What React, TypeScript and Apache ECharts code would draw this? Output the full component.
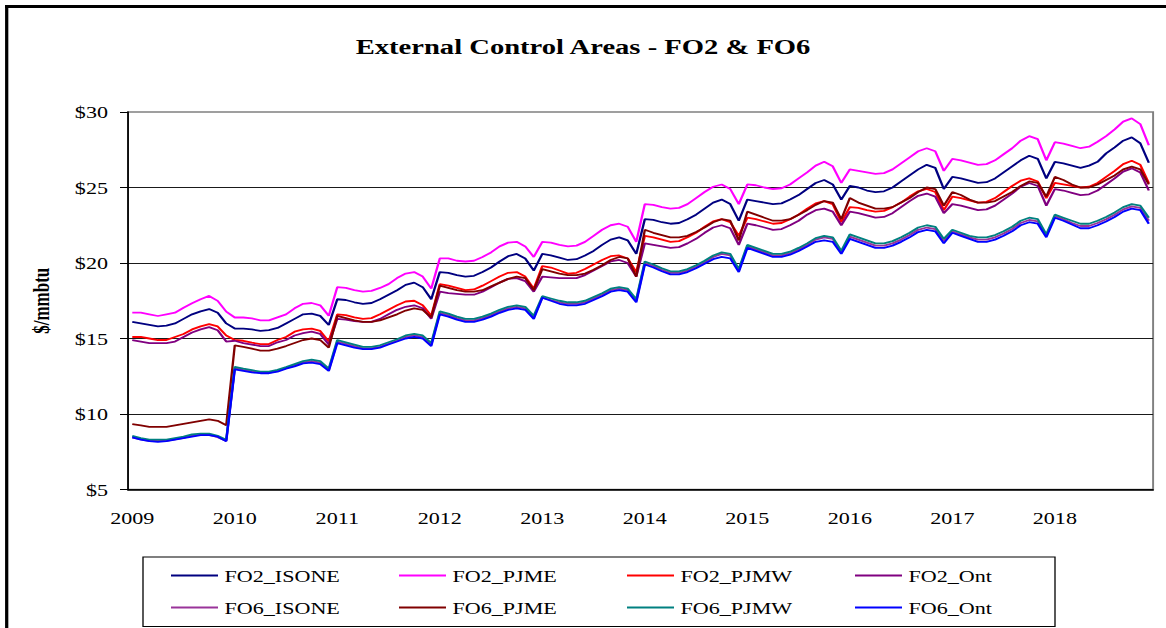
import React, { useEffect, useRef } from "react";
import * as echarts from "echarts";

// ---------- data ----------
const years = ["2009", "2010", "2011", "2012", "2013", "2014", "2015", "2016", "2017", "2018"];
const monthCodes = ["01", "02", "03", "04", "05", "06", "07", "08", "09", "10", "11", "12"];
const yTicks = [5, 10, 15, 20, 25, 30];

const seriesNames = [
  "FO2_ISONE", "FO2_PJME", "FO2_PJMW", "FO2_Ont",
  "FO6_ISONE", "FO6_PJME", "FO6_PJMW", "FO6_Ont",
];

const fo2Isone = [
  16.1, 16.0, 15.9, 15.8, 15.85, 16.0, 16.3, 16.6, 16.8, 16.95, 16.7, 16.0,
  15.66, 15.66, 15.6, 15.5, 15.55, 15.7, 16.0, 16.3, 16.6, 16.65, 16.5, 15.9,
  17.6, 17.55, 17.4, 17.3, 17.35, 17.6, 17.9, 18.2, 18.55, 18.7, 18.4, 17.6,
  19.4, 19.35, 19.2, 19.1, 19.15, 19.4, 19.7, 20.1, 20.45, 20.6, 20.3, 19.5,
  20.6, 20.5, 20.35, 20.2, 20.25, 20.5, 20.8, 21.2, 21.55, 21.7, 21.5, 20.6,
  22.9, 22.85, 22.7, 22.6, 22.65, 22.9, 23.2, 23.6, 24.0, 24.2, 23.9, 22.8,
  24.2, 24.1, 24.0, 23.9, 23.95, 24.2, 24.5, 24.9, 25.3, 25.5, 25.2, 24.2,
  25.1, 25.0, 24.8, 24.7, 24.75, 25.0, 25.4, 25.8, 26.2, 26.5, 26.3, 24.9,
  25.7, 25.6, 25.45, 25.3, 25.35, 25.6, 26.0, 26.4, 26.8, 27.1, 26.9, 25.6,
  26.7, 26.6, 26.45, 26.3, 26.45, 26.7, 27.26, 27.66, 28.1, 28.32, 27.93, 26.64,
];
const fo2Pjme = [
  16.71, 16.71, 16.6, 16.49, 16.6, 16.71, 17.04, 17.33, 17.6, 17.82, 17.49, 16.78,
  16.39, 16.39, 16.33, 16.2, 16.2, 16.4, 16.6, 17.0, 17.3, 17.35, 17.2, 16.5,
  18.4, 18.35, 18.2, 18.1, 18.15, 18.35, 18.6, 19.0, 19.3, 19.4, 19.1, 18.3,
  20.3, 20.3, 20.15, 20.1, 20.15, 20.4, 20.7, 21.1, 21.35, 21.4, 21.1, 20.4,
  21.4, 21.35, 21.2, 21.1, 21.15, 21.4, 21.8, 22.2, 22.5, 22.6, 22.4, 21.4,
  23.9, 23.85, 23.7, 23.6, 23.65, 23.9, 24.3, 24.7, 25.05, 25.2, 24.9, 23.9,
  25.2, 25.15, 25.0, 24.9, 24.95, 25.2, 25.6, 26.0, 26.45, 26.7, 26.4, 25.3,
  26.2, 26.1, 26.0, 25.9, 25.95, 26.2, 26.6, 27.0, 27.4, 27.6, 27.4, 26.1,
  26.9, 26.8, 26.65, 26.5, 26.55, 26.8, 27.2, 27.6, 28.1, 28.4, 28.2, 26.8,
  28.0, 27.9, 27.75, 27.6, 27.7, 28.03, 28.4, 28.85, 29.36, 29.58, 29.2, 27.8,
];
const fo2Pjmw = [
  15.1, 15.1, 15.0, 14.9, 14.9, 15.1, 15.3, 15.6, 15.8, 15.95, 15.8, 15.2,
  14.9, 14.85, 14.72, 14.63, 14.63, 14.9, 15.1, 15.45, 15.6, 15.65, 15.5, 14.8,
  16.6, 16.55, 16.4, 16.3, 16.35, 16.6, 16.9, 17.2, 17.45, 17.5, 17.2, 16.5,
  18.6, 18.5, 18.35, 18.2, 18.25, 18.5, 18.8, 19.1, 19.35, 19.4, 19.1, 18.3,
  19.8, 19.7, 19.5, 19.3, 19.35, 19.6, 19.9, 20.2, 20.45, 20.5, 20.3, 19.4,
  21.8, 21.7, 21.55, 21.4, 21.45, 21.7, 22.0, 22.4, 22.75, 22.9, 22.7, 21.8,
  23.0, 22.9, 22.75, 22.6, 22.65, 22.9, 23.2, 23.6, 23.95, 24.1, 23.9, 22.7,
  23.7, 23.65, 23.5, 23.4, 23.45, 23.7, 24.0, 24.4, 24.75, 24.9, 24.7, 23.5,
  24.4, 24.3, 24.15, 24.0, 24.05, 24.3, 24.7, 25.1, 25.45, 25.6, 25.4, 24.3,
  25.3, 25.2, 25.1, 25.0, 25.05, 25.3, 25.7, 26.1, 26.55, 26.77, 26.5, 25.3,
];
const fo2Ont = [
  14.9, 14.8, 14.7, 14.7, 14.7, 14.8, 15.1, 15.4, 15.6, 15.75, 15.55, 14.8,
  14.85, 14.7, 14.6, 14.5, 14.5, 14.75, 14.9, 15.2, 15.35, 15.45, 15.3, 14.6,
  16.3, 16.25, 16.15, 16.1, 16.1, 16.3, 16.6, 16.9, 17.1, 17.2, 17.0, 16.3,
  18.1, 18.0, 17.95, 17.9, 17.9, 18.1, 18.4, 18.7, 18.95, 19.0, 18.8, 18.1,
  19.1, 19.05, 19.0, 19.0, 19.0, 19.2, 19.5, 19.8, 20.1, 20.2, 20.0, 19.1,
  21.3, 21.2, 21.1, 21.0, 21.05, 21.3, 21.6, 22.0, 22.35, 22.5, 22.3, 21.2,
  22.6, 22.5, 22.35, 22.2, 22.25, 22.5, 22.8, 23.2, 23.5, 23.6, 23.4, 22.5,
  23.4, 23.3, 23.15, 23.0, 23.05, 23.3, 23.7, 24.1, 24.45, 24.6, 24.4, 23.3,
  23.9, 23.8, 23.65, 23.5, 23.55, 23.8, 24.2, 24.6, 25.05, 25.3, 25.1, 23.8,
  24.9, 24.8, 24.65, 24.5, 24.55, 24.8, 25.2, 25.6, 26.05, 26.27, 26.0, 24.8,
];
const fo6Isone = [
  8.45, 8.32, 8.22, 8.22, 8.22, 8.32, 8.42, 8.57, 8.62, 8.62, 8.47, 8.22,
  13.05, 12.93, 12.83, 12.73, 12.73, 12.85, 13.03, 13.22, 13.42, 13.5, 13.4, 12.9,
  14.8, 14.65, 14.5, 14.35, 14.35, 14.45, 14.65, 14.85, 15.1, 15.2, 15.1, 14.6,
  16.7, 16.55, 16.35, 16.2, 16.2, 16.35, 16.55, 16.8, 17.0, 17.1, 17.0, 16.4,
  17.7, 17.55, 17.4, 17.3, 17.3, 17.4, 17.65, 17.9, 18.2, 18.3, 18.2, 17.5,
  20.0, 19.8, 19.55, 19.35, 19.35, 19.5, 19.75, 20.05, 20.4, 20.6, 20.5, 19.5,
  21.1, 20.9, 20.7, 20.5, 20.5, 20.65, 20.9, 21.2, 21.55, 21.7, 21.6, 20.7,
  21.75, 21.55, 21.35, 21.15, 21.15, 21.3, 21.55, 21.85, 22.2, 22.35, 22.25, 21.45,
  22.1, 21.9, 21.7, 21.55, 21.55, 21.7, 21.95, 22.25, 22.65, 22.85, 22.75, 21.8,
  23.1, 22.9, 22.65, 22.45, 22.45, 22.65, 22.9, 23.2, 23.55, 23.75, 23.65, 22.8,
];
const fo6Pjme = [
  9.33, 9.25, 9.15, 9.15, 9.15, 9.25, 9.35, 9.45, 9.55, 9.65, 9.55, 9.25,
  14.55, 14.45, 14.33, 14.2, 14.2, 14.33, 14.5, 14.7, 14.9, 15.0, 14.9, 14.4,
  16.5, 16.35, 16.2, 16.1, 16.1, 16.2, 16.4, 16.6, 16.85, 17.0, 16.9, 16.4,
  18.5, 18.35, 18.2, 18.1, 18.1, 18.2, 18.45, 18.7, 18.95, 19.1, 19.0, 18.2,
  19.6, 19.45, 19.3, 19.2, 19.2, 19.3, 19.55, 19.85, 20.2, 20.4, 20.3, 19.1,
  22.2, 22.0, 21.85, 21.7, 21.7, 21.8, 22.05, 22.35, 22.7, 22.9, 22.8, 21.5,
  23.4, 23.2, 23.0, 22.8, 22.8, 22.9, 23.2, 23.5, 23.85, 24.1, 24.0, 22.9,
  24.3, 24.0, 23.8, 23.6, 23.6, 23.7, 24.0, 24.3, 24.7, 25.0, 24.9, 23.8,
  24.7, 24.5, 24.2, 24.0, 24.0, 24.1, 24.4, 24.7, 25.1, 25.4, 25.3, 24.4,
  25.7, 25.5, 25.2, 25.0, 25.0, 25.2, 25.5, 25.8, 26.2, 26.38, 26.2, 25.2,
];
const fo6Pjmw = [
  8.55, 8.4, 8.3, 8.3, 8.3, 8.4, 8.5, 8.65, 8.7, 8.7, 8.55, 8.3,
  13.12, 13.0, 12.9, 12.8, 12.8, 12.92, 13.1, 13.3, 13.5, 13.6, 13.5, 13.0,
  14.9, 14.75, 14.6, 14.45, 14.45, 14.55, 14.75, 14.95, 15.2, 15.3, 15.2, 14.7,
  16.8, 16.65, 16.45, 16.3, 16.3, 16.45, 16.65, 16.9, 17.1, 17.2, 17.1, 16.5,
  17.8, 17.65, 17.5, 17.4, 17.4, 17.5, 17.75, 18.0, 18.3, 18.4, 18.3, 17.6,
  20.1, 19.9, 19.65, 19.45, 19.45, 19.6, 19.85, 20.15, 20.5, 20.7, 20.6, 19.6,
  21.2, 21.0, 20.8, 20.6, 20.6, 20.75, 21.0, 21.3, 21.65, 21.8, 21.7, 20.8,
  21.9, 21.7, 21.5, 21.3, 21.3, 21.45, 21.7, 22.0, 22.35, 22.5, 22.4, 21.6,
  22.2, 22.0, 21.8, 21.7, 21.7, 21.85, 22.1, 22.4, 22.8, 23.0, 22.9, 21.9,
  23.2, 23.0, 22.8, 22.6, 22.6, 22.8, 23.05, 23.35, 23.7, 23.9, 23.8, 23.0,
];
const fo6Ont = [
  8.45, 8.3, 8.2, 8.15, 8.2, 8.3, 8.4, 8.5, 8.6, 8.6, 8.5, 8.2,
  12.95, 12.85, 12.75, 12.7, 12.7, 12.8, 13.0, 13.15, 13.35, 13.4, 13.3, 12.85,
  14.7, 14.55, 14.4, 14.3, 14.3, 14.4, 14.6, 14.8, 15.0, 15.1, 15.0, 14.5,
  16.6, 16.45, 16.25, 16.1, 16.1, 16.25, 16.45, 16.7, 16.9, 17.0, 16.9, 16.3,
  17.7, 17.5, 17.3, 17.2, 17.2, 17.3, 17.55, 17.8, 18.1, 18.2, 18.1, 17.4,
  19.9, 19.7, 19.45, 19.25, 19.25, 19.4, 19.65, 19.95, 20.25, 20.4, 20.3, 19.4,
  21.0, 20.8, 20.6, 20.4, 20.4, 20.55, 20.8, 21.1, 21.4, 21.5, 21.4, 20.6,
  21.6, 21.4, 21.2, 21.0, 21.0, 21.15, 21.4, 21.7, 22.05, 22.2, 22.1, 21.3,
  22.0, 21.8, 21.6, 21.4, 21.4, 21.55, 21.8, 22.1, 22.5, 22.7, 22.6, 21.7,
  23.0, 22.8, 22.55, 22.3, 22.3, 22.5, 22.75, 23.05, 23.4, 23.6, 23.5, 22.6,
];

const seriesData = [fo2Isone, fo2Pjme, fo2Pjmw, fo2Ont, fo6Isone, fo6Pjme, fo6Pjmw, fo6Ont];
const seriesColors = ["#000080", "#FF00FF", "#FF0000", "#800080", "#993399", "#800000", "#008080", "#0000FF"];

// ---------- layout (the reference picture is horizontally stretched) ----------
const S = 1.3;
const W0 = 1166 / S;
const H = 628;
const X = (px: number) => px / S;
const FONT = "'Times New Roman', 'Liberation Serif', serif";

const categories: string[] = [];
years.forEach((y) => monthCodes.forEach((m) => categories.push(`${y}-${m}`)));

const legendCols = [171, 399, 627, 855];
const legendRows = [576, 608];

export default function App() {
  const ref = useRef<HTMLDivElement>(null);
  useEffect(() => {
    if (!ref.current) return;
    const chart = echarts.init(ref.current, null, { renderer: "svg" });
    const option: any = {
      animation: false,
      backgroundColor: "#ffffff",
      title: {
        text: "External Control Areas - FO2 & FO6",
        left: "center",
        top: 31,
        textStyle: { fontFamily: FONT, fontWeight: "bold", fontSize: 22, color: "#000" },
      },
      grid: {
        left: X(128),
        right: W0 - X(1153),
        top: 112,
        bottom: H - 489.5,
        show: true,
        borderColor: "#808080",
        borderWidth: 1.5,
        backgroundColor: "transparent",
      },
      legend: seriesNames.map((n, i) => ({
        data: [n],
        left: X(legendCols[i % 4]),
        top: legendRows[Math.floor(i / 4)] - 9,
        icon: "rect",
        itemWidth: X(47),
        itemHeight: 2,
        padding: 0,
        itemGap: 0,
        selectedMode: false,
        textStyle: { fontFamily: FONT, fontSize: 17, color: "#000" },
      })),
      xAxis: {
        type: "category",
        data: categories,
        boundaryGap: true,
        axisLine: { lineStyle: { color: "#000", width: 1.5 } },
        axisTick: {
          interval: (i: number) => i % 12 === 0,
          length: 6,
          lineStyle: { color: "#000", width: 1 },
        },
        axisLabel: {
          interval: (i: number) => i % 12 === 0,
          formatter: (v: string) => v.slice(0, 4),
          margin: 20,
          fontFamily: FONT,
          fontSize: 17,
          color: "#000",
        },
        splitLine: { show: false },
      },
      yAxis: {
        type: "value",
        min: 5,
        max: 30,
        interval: 5,
        name: "$/mmbtu",
        nameLocation: "middle",
        nameRotate: 90,
        nameGap: X(76),
        nameTextStyle: { fontFamily: FONT, fontWeight: "bold", fontSize: 17, color: "#000" },
        axisLine: { show: true, lineStyle: { color: "#000", width: 1.3 } },
        axisTick: { show: true, length: X(8), lineStyle: { color: "#000", width: 1 } },
        axisLabel: {
          formatter: (v: number) => (yTicks.includes(v) ? "$" + v : ""),
          margin: X(20),
          fontFamily: FONT,
          fontSize: 17,
          color: "#000",
        },
        splitLine: { show: true, showMaxLine: false, lineStyle: { color: "#1a1a1a", width: 1 } },
      },
      series: seriesNames.map((n, i) => ({
        name: n,
        type: "line",
        data: seriesData[i],
        symbol: "none",
        showSymbol: false,
        lineStyle: { color: seriesColors[i], width: 1.8 },
        itemStyle: { color: seriesColors[i] },
        emphasis: { disabled: true },
      })),
      graphic: [
        { type: "line", shape: { x1: X(6.7), y1: 5, x2: X(6.7), y2: H + 5 }, style: { stroke: "#000", lineWidth: 2.5 } },
        { type: "line", shape: { x1: X(5), y1: 6.5, x2: W0 + 5, y2: 6.5 }, style: { stroke: "#000", lineWidth: 3 } },
        {
          type: "rect",
          shape: { x: X(143), y: 557, width: X(1055 - 143), height: 69.5 },
          style: { fill: "none", stroke: "#000", lineWidth: 1 },
        },
      ],
    };
    chart.setOption(option);
    return () => chart.dispose();
  }, []);
  return (
    <div style={{ position: "fixed", left: 0, top: 0, width: 1166, height: H, overflow: "hidden", background: "#fff" }}>
      <div ref={ref} style={{ width: W0, height: H, transform: `scaleX(${S})`, transformOrigin: "0 0" }} />
    </div>
  );
}
